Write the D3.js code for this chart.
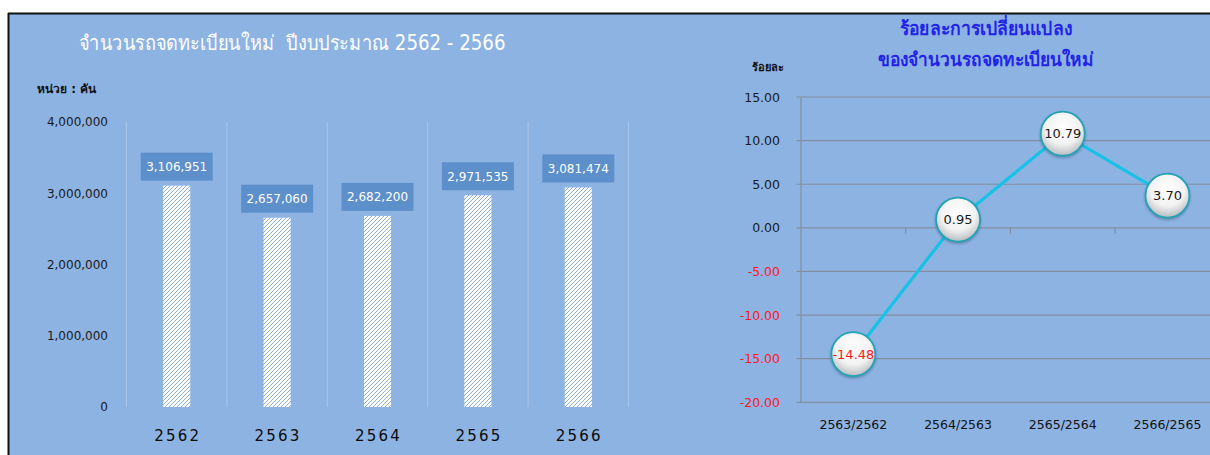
<!DOCTYPE html>
<html>
<head>
<meta charset="utf-8">
<script src="https://cdn.jsdelivr.net/npm/d3@7"></script>
<style>
  html, body { margin: 0; padding: 0; background: #ffffff; }
  svg { display: block; }
  text { font-family: "DejaVu Sans", "Noto Sans", sans-serif; white-space: pre; }
</style>
</head>
<body>
<script>
// ---- data ----
const years = ["2562", "2563", "2564", "2565", "2566"];
const registrations = [3106951, 2657060, 2682200, 2971535, 3081474];
const barTicks = [0, 1000000, 2000000, 3000000, 4000000];

const periods = ["2563/2562", "2564/2563", "2565/2564", "2566/2565"];
const pctChange = [-14.48, 0.95, 10.79, 3.70];
const pctTicks = [15, 10, 5, 0, -5, -10, -15, -20];

const leftTitle = "จำนวนรถจดทะเบียนใหม่  ปีงบประมาณ 2562 - 2566";
const leftUnit = "หน่วย : คัน";
const rightTitle = ["ร้อยละการเปลี่ยนแปลง", "ของจำนวนรถจดทะเบียนใหม่"];
const rightUnit = "ร้อยละ";

// ---- setup ----
const W = 1210, H = 455;
const svg = d3.select("body").append("svg").attr("width", W).attr("height", H);
const defs = svg.append("defs");
const fmt2 = v => d3.format(".2f")(v).replace("\u2212", "-");

// hatch pattern
const pat = defs.append("pattern").attr("id", "hatch")
  .attr("patternUnits", "userSpaceOnUse").attr("width", 4).attr("height", 4);
pat.append("rect").attr("width", 4).attr("height", 4).attr("fill", "#ffffff");
pat.append("path").attr("d", "M-1,1 l2,-2 M0,4 l4,-4 M3,5 l2,-2")
  .attr("stroke", "#82a6d6").attr("stroke-width", 0.9);

// marker gradient
const grad = defs.append("radialGradient").attr("id", "ball")
  .attr("cx", "50%").attr("cy", "35%").attr("r", "65%");
grad.append("stop").attr("offset", "0%").attr("stop-color", "#ffffff");
grad.append("stop").attr("offset", "60%").attr("stop-color", "#f2f2f2");
grad.append("stop").attr("offset", "100%").attr("stop-color", "#b8bcc0");
const flt = defs.append("filter").attr("id", "shadow").attr("x", "-30%").attr("y", "-30%").attr("width", "160%").attr("height", "160%");
flt.append("feDropShadow").attr("dx", 0).attr("dy", 1.5).attr("stdDeviation", 1.2).attr("flood-color", "#2a4a70").attr("flood-opacity", 0.45);

// background + frame
svg.append("rect").attr("x", 9).attr("y", 14).attr("width", W - 9).attr("height", H - 14).attr("fill", "#8db3e2");
svg.append("line").attr("x1", 8).attr("x2", W).attr("y1", 13.5).attr("y2", 13.5).attr("stroke", "#111").attr("stroke-width", 2);
svg.append("line").attr("x1", 8.5).attr("x2", 8.5).attr("y1", 13).attr("y2", H).attr("stroke", "#111").attr("stroke-width", 2);

// ================= LEFT: bar chart =================
const xGrid = d3.scaleBand().domain(years).range([126.5, 628.5]).padding(0);
const xBar = d3.scaleBand().domain(years).range([126.5, 628.5]).paddingInner(0.73).paddingOuter(0.365);
const yBar = d3.scaleLinear().domain([0, 4000000]).range([407, 122]);

const L = svg.append("g");

L.append("text").attr("x", 292).attr("y", 50).attr("text-anchor", "middle")
  .attr("fill", "#ffffff").attr("font-size", 20.5)
  .attr("textLength", 427).attr("lengthAdjust", "spacingAndGlyphs")
  .text(leftTitle);

L.append("text").attr("x", 37).attr("y", 93).attr("fill", "#111")
  .attr("font-size", 12).attr("font-weight", "bold").text(leftUnit);

// vertical grid lines at band boundaries
const bounds = years.map(d => xGrid(d)).concat([xGrid.range()[1]]);
L.selectAll("line.vg").data(bounds).join("line").attr("class", "vg")
  .attr("x1", d => d).attr("x2", d => d)
  .attr("y1", yBar(4000000)).attr("y2", yBar(0))
  .attr("stroke", "#a9c6ec").attr("stroke-width", 1);

// y axis
const yAxisL = d3.axisLeft(yBar).tickValues(barTicks).tickSize(0).tickPadding(0)
  .tickFormat(d3.format(","));
const gyL = L.append("g").attr("transform", "translate(108,0)").call(yAxisL);
gyL.select(".domain").remove();
gyL.selectAll("text").attr("font-size", 12).attr("fill", "#1a1a1a")
  .attr("font-family", "DejaVu Sans, sans-serif");

// x axis
const xAxisL = d3.axisBottom(xGrid).tickSize(0).tickPadding(0);
const gxL = L.append("g").attr("transform", "translate(1,430)").call(xAxisL);
gxL.select(".domain").remove();
gxL.selectAll("text").attr("font-size", 15).attr("fill", "#0a0a0a")
  .attr("font-family", "DejaVu Sans, sans-serif").style("letter-spacing", "2.2px");

// bars
L.selectAll("rect.bar").data(years).join("rect").attr("class", "bar")
  .attr("x", d => xBar(d)).attr("width", xBar.bandwidth())
  .attr("y", (d, i) => yBar(registrations[i]))
  .attr("height", (d, i) => yBar(0) - yBar(registrations[i]))
  .attr("fill", "url(#hatch)");

// labels
const lab = L.selectAll("g.lab").data(years).join("g").attr("class", "lab")
  .attr("transform", (d, i) => `translate(${xBar(d) + xBar.bandwidth() / 2},${yBar(registrations[i]) - 5})`);
lab.append("rect").attr("x", -36).attr("y", -28).attr("width", 72).attr("height", 28)
  .attr("fill", "#5d8fca");
lab.append("text").attr("x", 0).attr("y", -9.5).attr("text-anchor", "middle")
  .attr("fill", "#ffffff").attr("font-size", 12)
  .text((d, i) => d3.format(",")(registrations[i]));

// ================= RIGHT: line chart =================
const xL = d3.scaleBand().domain(periods).range([801, 1219.8]).padding(0);
const yL = d3.scaleLinear().domain([-20, 15]).range([402.3, 97]);

const R = svg.append("g");

const rtLen = [172, 216];
R.selectAll("text.rt").data(rightTitle).join("text").attr("class", "rt")
  .attr("x", 986).attr("y", (d, i) => 35 + i * 31).attr("text-anchor", "middle")
  .attr("fill", "#2323e6").attr("font-size", 19).attr("font-weight", "bold")
  .attr("textLength", (d, i) => rtLen[i]).attr("lengthAdjust", "spacingAndGlyphs")
  .text(d => d);

R.append("text").attr("x", 768).attr("y", 71).attr("text-anchor", "middle")
  .attr("fill", "#111").attr("font-size", 11).attr("font-weight", "bold").text(rightUnit);

// horizontal gridlines
R.selectAll("line.hg").data(pctTicks).join("line").attr("class", "hg")
  .attr("x1", 796.5).attr("x2", W).attr("y1", d => yL(d)).attr("y2", d => yL(d))
  .attr("stroke", "#838ea0").attr("stroke-width", 1.2);

// vertical axis line
R.append("line").attr("x1", 801).attr("x2", 801).attr("y1", yL(15)).attr("y2", yL(-20))
  .attr("stroke", "#838ea0").attr("stroke-width", 1.2);

// category tick marks on zero line
const catBounds = periods.map(d => xL(d)).slice(1);
R.selectAll("line.ct").data(catBounds).join("line").attr("class", "ct")
  .attr("x1", d => d).attr("x2", d => d).attr("y1", yL(0)).attr("y2", yL(0) + 6)
  .attr("stroke", "#838ea0").attr("stroke-width", 1.2);

// y axis labels
const yAxisR = d3.axisLeft(yL).tickValues(pctTicks).tickSize(0).tickPadding(0)
  .tickFormat(fmt2);
const gyR = R.append("g").attr("transform", "translate(780,0)").call(yAxisR);
gyR.select(".domain").remove();
gyR.selectAll("text").attr("font-size", 12.5).attr("font-family", "DejaVu Sans, sans-serif")
  .attr("fill", d => d < 0 ? "#ff1a1a" : "#1a1a1a");

// x axis labels
const xAxisR = d3.axisBottom(xL).tickSize(0).tickPadding(0);
const gxR = R.append("g").attr("transform", "translate(0,420)").call(xAxisR);
gxR.select(".domain").remove();
gxR.selectAll("text").attr("font-size", 12.5).attr("fill", "#111")
  .attr("font-family", "DejaVu Sans, sans-serif");

// line
const pts = periods.map((p, i) => [xL(p) + xL.bandwidth() / 2, yL(pctChange[i])]);
R.append("path").attr("d", d3.line()(pts)).attr("fill", "none")
  .attr("stroke", "#17c2e6").attr("stroke-width", 3.2);

// markers
const mk = R.selectAll("g.mk").data(periods).join("g").attr("class", "mk")
  .attr("transform", (d, i) => `translate(${pts[i][0]},${pts[i][1]})`);
mk.append("circle").attr("r", 22).attr("fill", "url(#ball)")
  .attr("stroke", "#21a3b5").attr("stroke-width", 1.8).attr("filter", "url(#shadow)");
mk.append("text").attr("y", 4.5).attr("text-anchor", "middle").attr("font-size", 13)
  .attr("fill", (d, i) => pctChange[i] < 0 ? "#ff1a1a" : "#1a1a1a")
  .text((d, i) => fmt2(pctChange[i]));
</script>
</body>
</html>
